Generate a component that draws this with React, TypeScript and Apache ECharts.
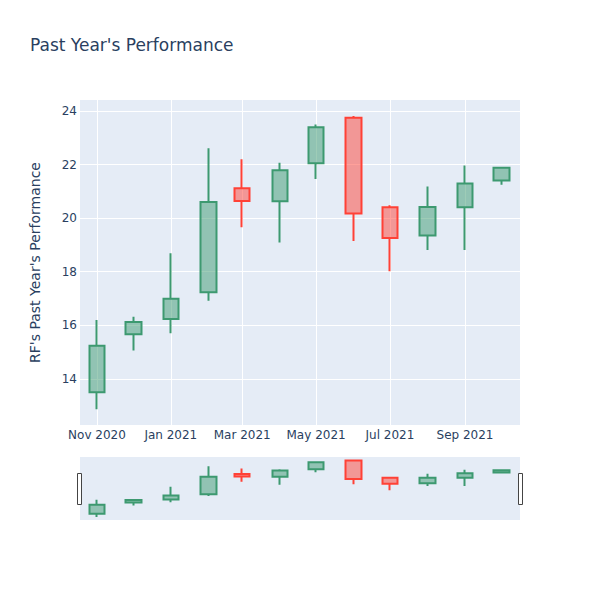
import React, { useEffect, useRef } from "react";
import * as echarts from "echarts";

const dates = [
  "2020-11-01", "2020-12-01", "2021-01-01", "2021-02-01", "2021-03-01", "2021-04-01",
  "2021-05-01", "2021-06-01", "2021-07-01", "2021-08-01", "2021-09-01", "2021-10-01",
];
const openValues = [13.5, 15.67, 16.24, 17.23, 21.12, 20.63, 22.05, 23.75, 20.41, 19.35, 20.41, 21.41];
const closeValues = [15.24, 16.12, 16.99, 20.6, 20.64, 21.79, 23.39, 20.17, 19.26, 20.42, 21.29, 21.88];
const lowValues = [12.87, 15.06, 15.7, 16.92, 19.66, 19.09, 21.46, 19.15, 18.02, 18.81, 18.81, 21.25];
const highValues = [16.2, 16.32, 18.69, 22.61, 22.2, 22.07, 23.5, 23.81, 20.48, 21.18, 21.97, 21.88];
const xTickDates = ["2020-11-01", "2021-01-01", "2021-03-01", "2021-05-01", "2021-07-01", "2021-09-01"];
const yTicks = [14, 16, 18, 20, 22, 24];
const monthNames = ["Jan", "Feb", "Mar", "Apr", "May", "Jun", "Jul", "Aug", "Sep", "Oct", "Nov", "Dec"];

const toTs = (s: string) => {
  const [y, m, d] = s.split("-").map(Number);
  return Date.UTC(y, m - 1, d);
};

const X_MIN = Date.UTC(2020, 9, 18);
const X_MAX = Date.UTC(2021, 9, 16, 10);
const Y_MIN = 12.28;
const Y_MAX = 24.41;

const FONT = "DejaVu Sans";
const TEXT = "#2a3f5f";
const UP = "#3D9970";
const DOWN = "#FF4136";

export default function App() {
  const ref = useRef<HTMLDivElement>(null);
  useEffect(() => {
    if (!ref.current) return;
    const chart = echarts.init(ref.current, undefined, { renderer: "svg" });
    const data = dates.map((d, i) => [toTs(d), openValues[i], closeValues[i], lowValues[i], highValues[i]]);
    const candleStyle = {
      color: "rgba(61,153,112,0.5)",
      color0: "rgba(255,65,54,0.5)",
      borderColor: UP,
      borderColor0: DOWN,
      borderWidth: 2,
    };
    const fmt = (v: number) => {
      const d = new Date(v);
      return monthNames[d.getUTCMonth()] + " " + d.getUTCFullYear();
    };
    chart.setOption({
      animation: false,
      backgroundColor: "#ffffff",
      textStyle: { fontFamily: FONT },
      title: {
        text: "Past Year's Performance",
        left: 25,
        top: 31,
        textStyle: { fontFamily: FONT, fontSize: 17, fontWeight: "normal", color: TEXT },
      },
      grid: [
        { left: 80, top: 100, width: 440, height: 325, backgroundColor: "#e5ecf6", show: true, borderWidth: 0 },
        { left: 80, top: 457, width: 440, height: 63, backgroundColor: "#e5ecf6", show: true, borderWidth: 0 },
      ],
      xAxis: [
        {
          type: "value",
          gridIndex: 0,
          min: X_MIN,
          max: X_MAX,
          axisLine: { show: false },
          axisTick: { show: false, customValues: xTickDates.map(toTs) },
          axisLabel: {
            customValues: xTickDates.map(toTs),
            formatter: fmt,
            color: TEXT,
            fontSize: 12,
            fontFamily: FONT,
            margin: 4,
          },
          splitLine: { show: true, lineStyle: { color: "#ffffff", width: 1 } },
        },
        {
          type: "value",
          gridIndex: 1,
          min: X_MIN,
          max: X_MAX,
          axisLine: { show: false },
          axisTick: { show: false },
          axisLabel: { show: false },
          splitLine: { show: false },
        },
      ],
      yAxis: [
        {
          type: "value",
          gridIndex: 0,
          min: Y_MIN,
          max: Y_MAX,
          name: "RF's Past Year's Performance",
          nameLocation: "middle",
          nameRotate: 90,
          nameGap: 38,
          nameTextStyle: { color: TEXT, fontSize: 14, fontFamily: FONT },
          axisLine: { show: false },
          axisTick: { show: false, customValues: yTicks },
          axisLabel: { customValues: yTicks, color: TEXT, fontSize: 12, fontFamily: FONT, margin: 3 },
          splitLine: { show: true, lineStyle: { color: "#ffffff", width: 1 } },
        },
        {
          type: "value",
          gridIndex: 1,
          min: Y_MIN,
          max: Y_MAX,
          axisLine: { show: false },
          axisTick: { show: false },
          axisLabel: { show: false },
          splitLine: { show: false },
        },
      ],
      series: [
        {
          type: "candlestick",
          xAxisIndex: 0,
          yAxisIndex: 0,
          barWidth: 16,
          data,
          itemStyle: candleStyle,
        },
        {
          type: "candlestick",
          xAxisIndex: 1,
          yAxisIndex: 1,
          barWidth: 16,
          data,
          itemStyle: candleStyle,
          silent: true,
        },
      ],
      graphic: [
        { type: "rect", shape: { x: 77.5, y: 473.5, width: 4, height: 31 }, style: { fill: "#ffffff", stroke: "#444444", lineWidth: 1 } },
        { type: "rect", shape: { x: 518.5, y: 473.5, width: 4, height: 31 }, style: { fill: "#ffffff", stroke: "#444444", lineWidth: 1 } },
      ],
    });
    return () => chart.dispose();
  }, []);
  return <div ref={ref} style={{ position: "fixed", left: 0, top: 0, width: 600, height: 600 }} />;
}
